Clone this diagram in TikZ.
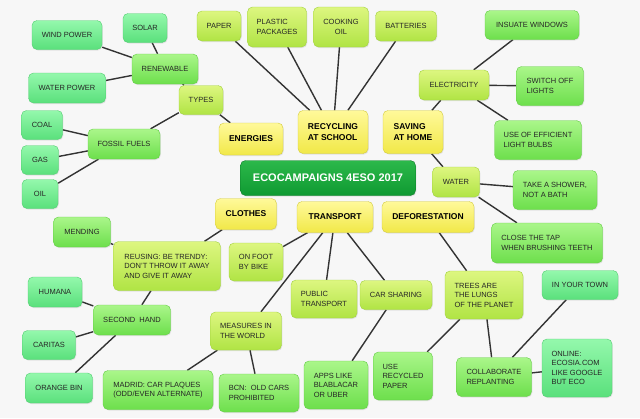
\documentclass[tikz,border=0pt]{standalone}
\usepackage{fontspec}
\setmainfont{Liberation Sans}
\usetikzlibrary{shadows}
\pgfdeclarelayer{bg}
\pgfsetlayers{bg,main}

\definecolor{paper}{HTML}{F7F7F7}
\definecolor{tealT}{HTML}{94F8AC}
\definecolor{tealB}{HTML}{5AE07C}
\definecolor{greenT}{HTML}{AAF68A}
\definecolor{greenB}{HTML}{6DDF4C}
\definecolor{limeT}{HTML}{DDF680}
\definecolor{limeB}{HTML}{B0E444}
\definecolor{yelT}{HTML}{FFF99A}
\definecolor{yelB}{HTML}{F1E848}
\definecolor{titT}{HTML}{2CB84A}
\definecolor{titB}{HTML}{0F9A32}
\definecolor{linkcol}{HTML}{333333}

\tikzset{
  mapbox/.style={rounded corners=5pt, inner sep=2pt, align=left, text=black!85,
    font=\fontsize{7.5}{9.5}\selectfont,
    drop shadow={opacity=0.18, shadow xshift=0.8pt, shadow yshift=-1pt}},
  tealbox/.style={mapbox, draw=tealB!92!black, top color=tealT, bottom color=tealB},
  greenbox/.style={mapbox, draw=greenB!92!black, top color=greenT, bottom color=greenB},
  limebox/.style={mapbox, draw=limeB!92!black, top color=limeT, bottom color=limeB},
  topicbox/.style={mapbox, draw=yelB!88!black, top color=yelT, bottom color=yelB,
    text=black, font=\fontsize{8.5}{10.5}\selectfont\bfseries},
  titlebox/.style={mapbox, draw=titB!80!black, top color=titT, bottom color=titB,
    text=white, font=\fontsize{11}{13}\selectfont\bfseries},
  sz/.style 2 args={minimum width=#1pt, minimum height=#2pt},
  link/.style={draw=linkcol, line width=1.4pt},
}

\begin{document}
\begin{tikzpicture}[x=1pt, y=-1pt]
    % fondo
    \begin{pgfonlayer}{bg}
      \fill[paper] (0,0) rectangle (640,418);
    \end{pgfonlayer}
    \useasboundingbox (0,0) rectangle (640,418);

    % titulo
    \node[titlebox, sz={175}{35}] (title) at (328,178) {ECOCAMPAIGNS 4ESO 2017};

    % temas principales
    \node[topicbox, sz={64}{32}] (energies) at (251,139) {ENERGIES};
    \node[topicbox, sz={70}{43}] (recycling) at (333,132) {RECYCLING\\AT SCHOOL};
    \node[topicbox, sz={60}{43}] (saving) at (413,132) {SAVING\\AT HOME};
    \node[topicbox, sz={61}{31}] (clothes) at (246,214) {CLOTHES};
    \node[topicbox, sz={76}{31}] (transport) at (335,217) {TRANSPORT};
    \node[topicbox, sz={92}{31}] (defor) at (428,217) {DEFORESTATION};

    % energias
    \node[limebox, sz={44}{29}] (types) at (201,100) {TYPES};
    \node[greenbox, sz={66}{30}] (renew) at (165,69) {RENEWABLE};
    \node[tealbox, sz={70}{29}] (wind) at (67,35) {WIND POWER};
    \node[tealbox, sz={44}{29}] (solar) at (145,28) {SOLAR};
    \node[tealbox, sz={77}{30}] (hydro) at (67,88) {WATER POWER};
    \node[greenbox, sz={72}{30}] (fossil) at (124,144) {FOSSIL FUELS};
    \node[tealbox, sz={41}{29}] (coal) at (42,125) {COAL};
    \node[tealbox, sz={37}{29}] (gas) at (40,160) {GAS};
    \node[tealbox, sz={36}{29}] (oil) at (40,194) {OIL};

    % reciclaje
    \node[limebox, sz={44}{30}] (paperbin) at (219,26) {PAPER};
    \node[limebox, sz={59}{40}] (plastic) at (277,27) {PLASTIC\\PACKAGES};
    \node[limebox, sz={55}{40}, align=center] (cooking) at (341,27) {COOKING\\OIL};
    \node[limebox, sz={61}{30}] (batteries) at (406,26) {BATTERIES};

    % ahorro en casa
    \node[limebox, sz={70}{30}] (elec) at (454,85) {ELECTRICITY};
    \node[greenbox, sz={94}{29}] (windows) at (532,25) {INSUATE WINDOWS};
    \node[greenbox, sz={67}{39}] (switch) at (550,86) {SWITCH OFF\\LIGHTS};
    \node[greenbox, sz={87}{39}] (bulbs) at (538,140) {USE OF EFFICIENT\\LIGHT BULBS};
    \node[limebox, sz={47}{30}] (water) at (456,182) {WATER};
    \node[greenbox, sz={84}{39}] (shower) at (555,190) {TAKE A SHOWER,\\NOT A BATH};
    \node[greenbox, sz={111}{40}] (tap) at (547,243) {CLOSE THE TAP\\WHEN BRUSHING TEETH};

    % ropa
    \node[limebox, sz={107}{49}] (reusing) at (167,266) {REUSING: BE TRENDY:\\DON'T THROW IT AWAY\\AND GIVE IT AWAY};
    \node[greenbox, sz={57}{30}] (mending) at (82,232) {MENDING};
    \node[greenbox, sz={77}{30}] (second) at (132,320) {SECOND\ \ HAND};
    \node[tealbox, sz={54}{30}] (humana) at (55,292) {HUMANA};
    \node[tealbox, sz={53}{29}] (caritas) at (49,345) {CARITAS};
    \node[tealbox, sz={67}{30}] (orange) at (59,388) {ORANGE BIN};

    % transporte
    \node[limebox, sz={54}{38}] (onfoot) at (256,262) {ON FOOT\\BY BIKE};
    \node[limebox, sz={66}{38}] (public) at (324,299) {PUBLIC\\TRANSPORT};
    \node[limebox, sz={72}{29}] (carshare) at (396,295) {CAR SHARING};
    \node[limebox, sz={71}{38}] (measures) at (246,331) {MEASURES IN\\THE WORLD};
    \node[greenbox, sz={110}{39}] (madrid) at (158,390) {MADRID: CAR PLAQUES\\(ODD/EVEN ALTERNATE)};
    \node[greenbox, sz={80}{38}] (bcn) at (259,393) {BCN:\ \ OLD CARS\\PROHIBITED};
    \node[greenbox, sz={64}{48}] (apps) at (336,385) {APPS LIKE\\BLABLACAR\\OR UBER};

    % deforestacion
    \node[limebox, sz={78}{48}] (trees) at (484,295) {TREES ARE\\THE LUNGS\\OF THE PLANET};
    \node[greenbox, sz={59}{48}] (usepaper) at (403,376) {USE\\RECYCLED\\PAPER};
    \node[greenbox, sz={75}{39}] (collab) at (494,377) {COLLABORATE\\REPLANTING};
    \node[tealbox, sz={76}{29}] (town) at (580,285) {IN YOUR TOWN};
    \node[tealbox, sz={70}{58}] (online) at (577,368) {ONLINE:\\ECOSIA.COM\\LIKE GOOGLE\\BUT ECO};

    % conexiones (detras de las cajas)
    \begin{pgfonlayer}{bg}
      \draw[link] (types) -- (energies);
      \draw[link] (types) -- (renew);
      \draw[link] (types) -- (fossil);
      \foreach \n in {wind, solar, hydro} \draw[link] (renew) -- (\n);
      \foreach \n in {coal, gas, oil} \draw[link] (fossil) -- (\n);
      \foreach \n in {paperbin, plastic, cooking, batteries} \draw[link] (recycling) -- (\n);
      \draw[link] (saving) -- (elec);
      \draw[link] (saving) -- (water);
      \foreach \n in {windows, switch, bulbs} \draw[link] (elec) -- (\n);
      \draw[link] (water) -- (shower);
      \draw[link] (water) -- (tap);
      \draw[link] (clothes) -- (reusing);
      \draw[link] (reusing) -- (mending);
      \draw[link] (reusing) -- (second);
      \foreach \n in {humana, caritas, orange} \draw[link] (second) -- (\n);
      \foreach \n in {onfoot, public, carshare, measures} \draw[link] (transport) -- (\n);
      \draw[link] (measures) -- (madrid);
      \draw[link] (measures) -- (bcn);
      \draw[link] (carshare) -- (apps);
      \draw[link] (defor) -- (trees);
      \draw[link] (trees) -- (usepaper);
      \draw[link] (trees) -- (collab);
      \draw[link] (collab) -- (town);
      \draw[link] (collab) -- (online);
    \end{pgfonlayer}
\end{tikzpicture}
\end{document}
